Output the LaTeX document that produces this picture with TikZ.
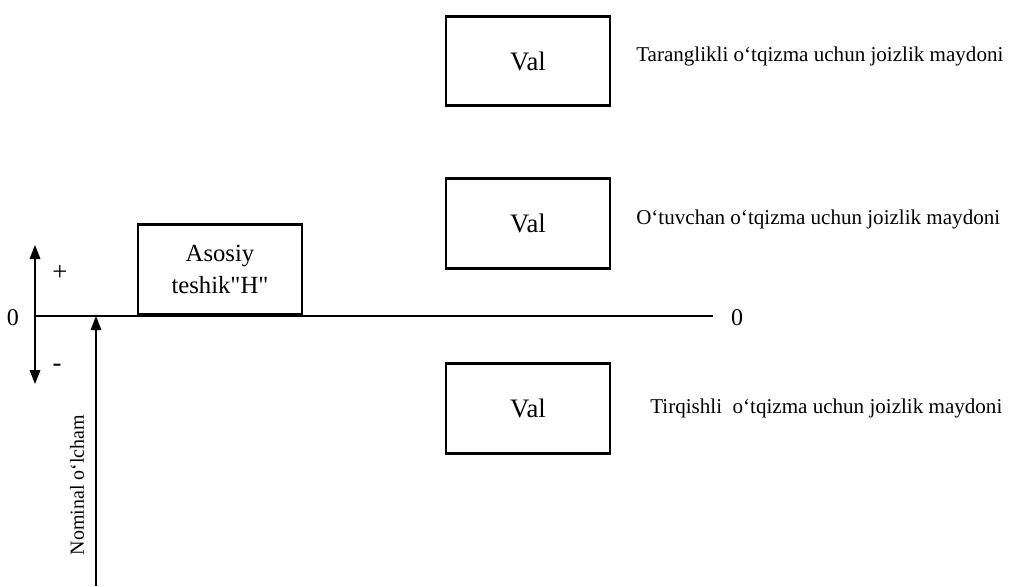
\documentclass[tikz,border=0pt]{standalone}
\usepackage{fontspec}
\setmainfont{Liberation Serif}
\usetikzlibrary{arrows.meta}

\begin{document}
\begin{tikzpicture}[x=0.75pt, y=-0.75pt,
    fieldbox/.style={draw, line width=2.2pt, minimum width=123pt,
        minimum height=67pt, inner sep=0pt, font=\fontsize{20}{24}\selectfont},
    fieldlabel/.style={anchor=west, inner sep=0pt, font=\fontsize{15.8}{18}\selectfont},
    axislabel/.style={inner sep=0pt, font=\fontsize{18}{22}\selectfont},
    arr/.style={line width=1pt, -{Triangle[length=10.5pt, width=8pt]}}]
\useasboundingbox (0,0) rectangle (1014,586);

% Draw zero line.
\coordinate (zleft) at (35,316);
\coordinate (zright) at (713,316);
\draw[line width=1pt] (zleft) -- (zright);
\node[axislabel] (zeroa) at (13,318) {0};
\node[axislabel] (zerob) at (737,318) {0};

% Draw plus/minus arrows.
\coordinate (plustip) at (35,245);
\coordinate (minustip) at (35,384);
\draw[arr] (zleft) -- (plustip);
\draw[arr] (zleft) -- (minustip);
\node[axislabel, font=\fontsize{20}{22}\selectfont] (plus) at (60,273) {+};
\node[axislabel, font=\fontsize{20}{22}\selectfont] (minus) at (57,368) {-};

% Draw nominal size.
\coordinate (nombase) at (96,586);
\coordinate (nomtip) at (96,316);
\draw[arr] (nombase) -- (nomtip);
\node[rotate=90, inner sep=0pt, font=\fontsize{15}{16}\selectfont]
    (nominal) at (77,485) {Nominal o‘lcham};

% Draw hole.
\node[fieldbox, align=center, minimum height=68pt, font=\fontsize{18.5}{24}\selectfont]
    (hole) at (220,269.5) {Asosiy\\teshik\textquotedbl H\textquotedbl};

% Draw shafts.
\node[fieldbox] (shafta) at (528,61) {Val};
\node[fieldbox] (shaftb) at (528,223.5) {Val};
\node[fieldbox] (shaftc) at (528,408.5) {Val};

\node[fieldlabel] (labela) at (636,56) {Taranglikli o‘tqizma uchun joizlik maydoni};
\node[fieldlabel] (labelb) at (636,219) {O‘tuvchan o‘tqizma uchun joizlik maydoni};
\node[fieldlabel] (labelc) at (650,408) {Tirqishli~ o‘tqizma uchun joizlik maydoni};

\end{tikzpicture}
\end{document}
